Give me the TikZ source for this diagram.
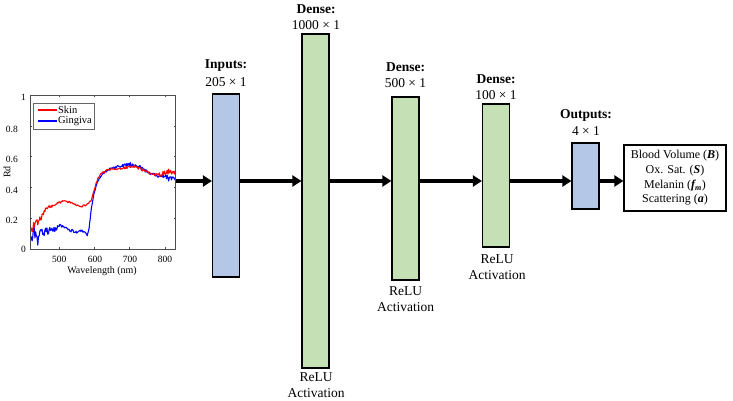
\documentclass[tikz,border=0pt]{standalone}
\usepackage{fontspec}
\setmainfont{Liberation Serif}
\usetikzlibrary{arrows.meta}
\definecolor{blueL}{HTML}{B4C7E7}
\definecolor{greenL}{HTML}{C5E0B4}
\definecolor{pureRed}{RGB}{255,0,0}
\definecolor{pureBlue}{RGB}{0,0,255}
\begin{document}
\begin{tikzpicture}[x=1pt,y=-1pt,
  layerbox/.style={draw=black, line width=1.2pt, inner sep=0pt, minimum width=27pt},
  inlayer/.style={layerbox, fill=blueL},
  denselayer/.style={layerbox, fill=greenL},
  lbl/.style={font=\fontsize{13.5}{15}\selectfont, inner sep=0pt},
  blbl/.style={font=\bfseries\fontsize{13.5}{15}\selectfont, inner sep=0pt},
  arr/.style={line width=3.6pt, -{Triangle[length=9pt,width=11pt]}},
  tick/.style={font=\fontsize{9.5}{11}\selectfont, inner sep=0pt},
  axisline/.style={draw=black!70, line width=0.5pt},
  skin/.style={draw=pureRed, line width=1.1pt, line join=round},
  ging/.style={draw=pureBlue, line width=1.1pt, line join=round},
  legtext/.style={anchor=west, font=\fontsize{10.5}{12}\selectfont, inner sep=0pt}
]
\path[use as bounding box] (0,0) rectangle (733,401);
\pgfmathsetseed{7}

% ---------- spectrum plot ----------
\begin{scope}[xshift=30.7pt, yshift=-249pt, x=0.3537pt, y=154pt]
  \draw[ging] (0,0.06) \foreach \la/\ra/\lb/\rb/\n in {
    420/0.06/430/0.10/0.05, 430/0.10/440/0.06/0.05, 440/0.06/450/0.10/0.04,
    450/0.10/460/0.11/0.03, 460/0.11/470/0.12/0.025, 470/0.12/480/0.12/0.02,
    480/0.12/490/0.13/0.015, 490/0.13/500/0.15/0.012, 500/0.15/510/0.15/0.01,
    510/0.15/520/0.14/0.01, 520/0.14/530/0.125/0.01, 530/0.125/540/0.115/0.01,
    540/0.115/550/0.11/0.008, 550/0.11/560/0.12/0.008, 560/0.12/570/0.11/0.008,
    570/0.11/580/0.09/0.008, 580/0.09/585/0.13/0.006, 585/0.13/590/0.24/0.006,
    590/0.24/600/0.37/0.006, 600/0.37/610/0.44/0.006, 610/0.44/620/0.48/0.006,
    620/0.48/630/0.50/0.006, 630/0.50/640/0.515/0.006, 640/0.515/650/0.525/0.007,
    650/0.525/660/0.53/0.007, 660/0.53/670/0.535/0.008, 670/0.535/680/0.54/0.01,
    680/0.54/690/0.545/0.012, 690/0.545/700/0.55/0.012, 700/0.55/710/0.545/0.012,
    710/0.545/720/0.54/0.012, 720/0.54/730/0.53/0.01, 730/0.53/740/0.515/0.01,
    740/0.515/750/0.50/0.01, 750/0.50/760/0.49/0.01, 760/0.49/770/0.48/0.01,
    770/0.48/780/0.475/0.012, 780/0.475/790/0.47/0.015, 790/0.47/800/0.465/0.02,
    800/0.465/810/0.46/0.02, 810/0.46/820/0.46/0.015, 820/0.46/830/0.455/0.012}
    { \foreach \t in {0.2,0.4,0.6,0.8,1} { -- ({\la-420+\t*(\lb-\la)}, {\ra+\t*(\rb-\ra)+\n*rand}) } };
  \draw[skin] (0,0.12) \foreach \la/\ra/\lb/\rb/\n in {
    420/0.12/430/0.16/0.03, 430/0.16/440/0.17/0.025, 440/0.17/450/0.21/0.02,
    450/0.21/460/0.25/0.015, 460/0.25/470/0.27/0.012, 470/0.27/480/0.28/0.01,
    480/0.28/490/0.29/0.008, 490/0.29/500/0.30/0.008, 500/0.30/510/0.31/0.007,
    510/0.31/520/0.31/0.007, 520/0.31/530/0.305/0.007, 530/0.305/540/0.295/0.006,
    540/0.295/550/0.285/0.006, 550/0.285/560/0.275/0.006, 560/0.275/570/0.28/0.006,
    570/0.28/580/0.29/0.006, 580/0.29/590/0.31/0.006, 590/0.31/600/0.39/0.006,
    600/0.39/610/0.46/0.006, 610/0.46/620/0.49/0.006, 620/0.49/630/0.505/0.006,
    630/0.505/640/0.515/0.006, 640/0.515/650/0.52/0.006, 650/0.52/660/0.52/0.006,
    660/0.52/670/0.52/0.006, 670/0.52/680/0.525/0.007, 680/0.525/690/0.53/0.007,
    690/0.53/700/0.535/0.008, 700/0.535/710/0.535/0.008, 710/0.535/720/0.53/0.008,
    720/0.53/730/0.52/0.008, 730/0.52/740/0.51/0.008, 740/0.51/750/0.50/0.008,
    750/0.50/760/0.49/0.008, 760/0.49/770/0.485/0.01, 770/0.485/780/0.48/0.012,
    780/0.48/790/0.49/0.015, 790/0.49/800/0.495/0.018, 800/0.495/810/0.505/0.018,
    810/0.505/820/0.50/0.015, 820/0.50/830/0.495/0.012}
    { \foreach \t in {0.2,0.4,0.6,0.8,1} { -- ({\la-420+\t*(\lb-\la)}, {\ra+\t*(\rb-\ra)+\n*rand}) } };
  % axes box
  \draw[axisline] (0,0) rectangle (410,1);
  \foreach \v in {0.2,0.4,0.6,0.8} {
    \draw[axisline] (0,\v) -- ++(4,0);
    \draw[axisline] (410,\v) -- ++(-4,0);
  }
  \foreach \w in {500,600,700,800} {
    \draw[axisline] (\w-420,0) -- ++(0,0.015);
    \draw[axisline] (\w-420,1) -- ++(0,-0.015);
  }
  % legend
  \node[draw=black!60, line width=0.4pt, fill=white, minimum width=61pt, minimum height=26pt, inner sep=0pt] (leg) at (92.7,0.864) {};
  \coordinate (ls1) at (20.6,0.903);
  \coordinate (ls2) at (74,0.903);
  \coordinate (lg1) at (20.6,0.831);
  \coordinate (lg2) at (74,0.831);
\end{scope}
\draw[pureRed, line width=1.3pt] (ls1) -- (ls2);
\draw[pureBlue, line width=1.3pt] (lg1) -- (lg2);
\node[legtext] (legskin) at ([xshift=1pt]ls2) {Skin};
\node[legtext] (legging) at ([xshift=1pt]lg2) {Gingiva};

% tick labels
\node[tick, anchor=east] (y1) at (26,97) {1};
\node[tick, anchor=east] (y08) at (18,129) {0.8};
\node[tick, anchor=east] (y06) at (18,159) {0.6};
\node[tick, anchor=east] (y04) at (18,190) {0.4};
\node[tick, anchor=east] (y02) at (18,220) {0.2};
\node[tick, anchor=east] (y0) at (26,249) {0};
\node[tick] (x500) at (59.3,259) {500};
\node[tick] (x600) at (95,259) {600};
\node[tick] (x700) at (130,259) {700};
\node[tick] (x800) at (165,259) {800};
\node[font=\fontsize{10}{11}\selectfont, inner sep=0pt] (xlab) at (102,271) {Wavelength (nm)};
\node[font=\fontsize{10}{11}\selectfont, inner sep=0pt, rotate=90] (ylab) at (7,172) {Rd};

% ---------- network ----------
\coordinate (plotR) at (176,181);
\coordinate (ay) at (0,181);

\node[inlayer, minimum height=183pt] (in) at (226,185.5) {};
\node[blbl] (inT) at (226,66) {Inputs:};
\node[lbl] (inS) at (226,82) {205 × 1};

\node[denselayer, minimum height=334pt] (d1) at (315.5,201) {};
\node[blbl] (d1T) at (316,9) {Dense:};
\node[lbl] (d1S) at (316,25) {1000 × 1};
\node[lbl] (d1R) at (316,377) {ReLU};
\node[lbl] (d1A) at (316,393) {Activation};

\node[denselayer, minimum height=183pt] (d2) at (405.5,188.5) {};
\node[blbl] (d2T) at (405.5,67) {Dense:};
\node[lbl] (d2S) at (405.5,83) {500 × 1};
\node[lbl] (d2R) at (405.5,291) {ReLU};
\node[lbl] (d2A) at (405.5,307) {Activation};

\node[denselayer, minimum height=143pt] (d3) at (496,175.5) {};
\node[blbl] (d3T) at (496,79) {Dense:};
\node[lbl] (d3S) at (496,95) {100 × 1};
\node[lbl] (d3R) at (497,259) {ReLU};
\node[lbl] (d3A) at (497,275) {Activation};

\node[inlayer, minimum height=66pt] (out) at (585.5,176) {};
\node[blbl] (outT) at (586,115) {Outputs:};
\node[lbl] (outS) at (586,131) {4 × 1};

\node[draw=black, line width=1.2pt, minimum width=102pt, minimum height=66pt, align=center, inner sep=0pt,
      font=\fontsize{12}{14.7}\selectfont] (res) at (675,178)
  {Blood Volume (\textbf{\textit{B}})\\ Ox. Sat. (\textbf{\textit{S}})\\ Melanin (\textbf{\textit{f\textsubscript{m}}})\\ Scattering (\textbf{\textit{a}})};

\draw[arr] (plotR) -- (in.west |- ay);
\draw[arr] (in.east |- ay) -- (d1.west |- ay);
\draw[arr] (d1.east |- ay) -- (d2.west |- ay);
\draw[arr] (d2.east |- ay) -- (d3.west |- ay);
\draw[arr] (d3.east |- ay) -- (out.west |- ay);
\draw[arr] (out.east |- ay) -- (res.west |- ay);
\end{tikzpicture}
\end{document}
